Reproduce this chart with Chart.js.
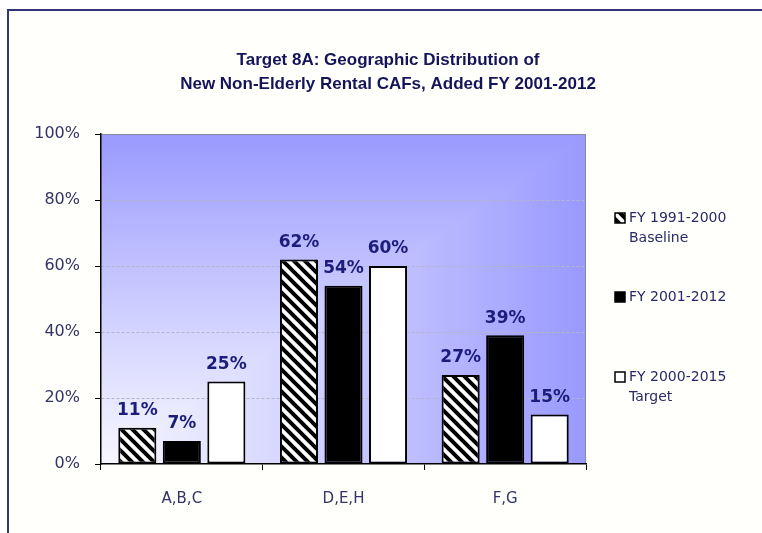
<!DOCTYPE html>
<html>
<head>
<meta charset="utf-8">
<script src="https://cdn.jsdelivr.net/npm/chart.js@4.4.0/dist/chart.umd.min.js"></script>
<style>
    html, body { margin: 0; padding: 0; background: #fff; }
    body { width: 762px; height: 533px; position: relative; overflow: hidden; }
    #frame {
        position: absolute; left: 7px; top: 9px; width: 800px; height: 600px;
        border-left: 2px solid #34347a; border-top: 2px solid #34347a;
        background: #fffffb;
    }
    #wrap { position: absolute; left: 0; top: 0; width: 762px; height: 533px; }
</style>
</head>
<body>
<div id="frame"></div>
<div id="wrap"><canvas id="chart" width="762" height="533"></canvas></div>
<script>
// Regions and shares of new non-elderly rental CAFs (percent)
const categories = ['A,B,C', 'D,E,H', 'F,G'];
const baseline = [11, 62, 27];   // FY 1991-2000 baseline
const actual = [7, 54, 39];      // FY 2001-2012
const target = [25, 60, 15];     // FY 2000-2015 target
const seriesNames = [['FY 1991-2000', 'Baseline'], ['FY 2001-2012'], ['FY 2000-2015', 'Target']];
const titleLines = ['Target 8A: Geographic Distribution of', 'New Non-Elderly Rental CAFs, Added FY 2001-2012'];
const yTicks = [0, 20, 40, 60, 80, 100];

const NAVY = '#1c1c7c';
const canvas = document.getElementById('chart');

// Diagonal black/white stripes for the baseline series
function makeHatch() {
    const s = 11;
    const c = document.createElement('canvas');
    c.width = s; c.height = s;
    const g = c.getContext('2d');
    g.fillStyle = '#fff';
    g.fillRect(0, 0, s, s);
    g.strokeStyle = '#000';
    g.lineWidth = 4;
    g.beginPath();
    g.moveTo(-s / 2, -s / 2); g.lineTo(s * 1.5, s * 1.5);
    g.moveTo(-s / 2, s / 2); g.lineTo(s / 2, s * 1.5);
    g.moveTo(s / 2, -s / 2); g.lineTo(s * 1.5, s / 2);
    g.stroke();
    return canvas.getContext('2d').createPattern(c, 'repeat');
}
const hatch = makeHatch();
const fills = [hatch, '#000', '#fff'];

// Plot area shaded from the bottom-left corner (white) to periwinkle
const plotBg = {
    id: 'plotBg',
    beforeDraw(chart) {
        const { ctx, chartArea: a } = chart;
        const w = Math.round(a.right - a.left), h = Math.round(a.bottom - a.top);
        const off = document.createElement('canvas');
        off.width = w; off.height = h;
        const octx = off.getContext('2d');
        const img = octx.createImageData(w, h);
        for (let y = 0; y < h; y++) {
            for (let x = 0; x < w; x++) {
                const t = Math.min(1, Math.max(x / w, (h - y) / h));
                const f = Math.pow(t, 1.1);
                const i = (y * w + x) * 4;
                img.data[i] = 246 - 93 * f;
                img.data[i + 1] = 246 - 93 * f;
                img.data[i + 2] = 255;
                img.data[i + 3] = 255;
            }
        }
        octx.putImageData(img, 0, 0);
        ctx.drawImage(off, a.left, a.top);
        ctx.save();
        ctx.strokeStyle = '#8a8a9c';
        ctx.lineWidth = 1;
        ctx.beginPath();
        ctx.moveTo(a.left, a.top + 0.5);
        ctx.lineTo(a.right - 0.5, a.top + 0.5);
        ctx.lineTo(a.right - 0.5, a.bottom);
        ctx.stroke();
        ctx.restore();
    }
};

// Value labels, title and legend
const annotate = {
    id: 'annotate',
    afterDatasetsDraw(chart) {
        const ctx = chart.ctx;
        ctx.save();
        ctx.font = 'bold 17px "DejaVu Sans"';
        ctx.fillStyle = NAVY;
        ctx.textAlign = 'center';
        ctx.textBaseline = 'middle';
        chart.data.datasets.forEach((ds, di) => {
            chart.getDatasetMeta(di).data.forEach((bar, i) => {
                ctx.fillText(ds.data[i] + '%', bar.x, bar.y - 17);
            });
        });
        ctx.restore();
    },
    afterDraw(chart) {
        const ctx = chart.ctx;
        ctx.save();
        // title
        ctx.font = 'bold 17px "Liberation Sans", Arial, sans-serif';
        ctx.fillStyle = '#14145a';
        ctx.textAlign = 'center';
        ctx.textBaseline = 'middle';
        titleLines.forEach((line, i) => ctx.fillText(line, 388, 60 + i * 24));

        // legend
        ctx.font = '14px "DejaVu Sans"';
        ctx.textAlign = 'left';
        const rows = [218, 297, 377];
        seriesNames.forEach((lines, i) => {
            const y = rows[i];
            ctx.fillStyle = fills[i];
            ctx.fillRect(615, y - 5, 10, 10);
            ctx.strokeStyle = '#000';
            ctx.lineWidth = 1.5;
            ctx.strokeRect(615, y - 5, 10, 10);
            ctx.fillStyle = '#2a2a66';
            lines.forEach((t, j) => ctx.fillText(t, 629, y + j * 20));
        });
        ctx.restore();
    }
};

new Chart(canvas, {
    type: 'bar',
    data: {
        labels: categories,
        datasets: [baseline, actual, target].map((vals, i) => ({
            label: seriesNames[i].join(' '),
            data: vals,
            backgroundColor: fills[i],
            borderColor: '#000',
            borderWidth: 2,
            borderSkipped: false,
            barPercentage: 0.855,
            categoryPercentage: 0.826
        }))
    },
    options: {
        responsive: false,
        devicePixelRatio: 1,
        animation: false,
        layout: { padding: { top: 134, right: 176, left: 0, bottom: 0 } },
        plugins: {
            legend: { display: false },
            title: { display: false },
            tooltip: { enabled: false }
        },
        scales: {
            x: {
                afterFit: (scale) => { scale.height = 69; },
                grid: { drawOnChartArea: false, tickLength: 6, tickColor: '#000' },
                border: { color: '#000', width: 1.5 },
                ticks: {
                    padding: 20,
                    color: '#333366',
                    font: { family: 'DejaVu Sans', size: 15 }
                }
            },
            y: {
                min: 0,
                max: 100,
                afterFit: (scale) => { scale.width = 101; },
                afterBuildTicks: (scale) => { scale.ticks = yTicks.map(v => ({ value: v })); },
                grid: {
                    color: (c) => (c.tick && (c.tick.value === 0 || c.tick.value === 100)) ? 'rgba(0,0,0,0)' : '#b4b4cc',
                    tickLength: 6,
                    tickColor: '#000'
                },
                border: { color: '#000', width: 1.5, dash: [3, 2] },
                ticks: {
                    padding: 15,
                    color: '#333366',
                    font: { family: 'DejaVu Sans', size: 16 },
                    callback: (v) => v + '%'
                }
            }
        }
    },
    plugins: [plotBg, annotate]
});
</script>
</body>
</html>
